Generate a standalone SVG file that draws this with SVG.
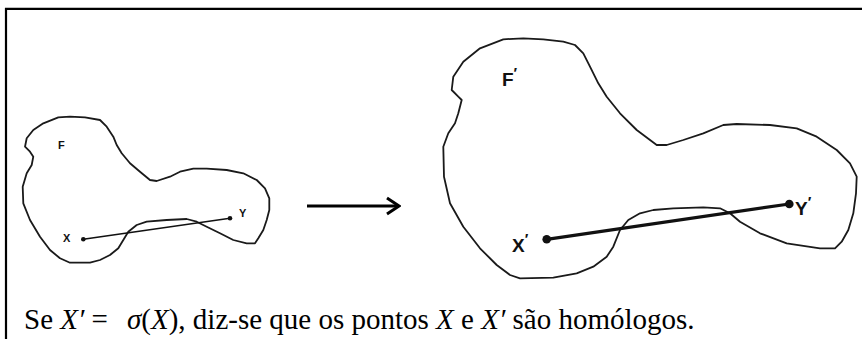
<svg xmlns="http://www.w3.org/2000/svg" width="862" height="339" viewBox="0 0 862 339">
<style>
.frame{stroke:#000;stroke-width:2.2;fill:none}
.blob{fill:none;stroke:#1a1a1a;stroke-width:1.8;stroke-linejoin:round;stroke-linecap:round}
.lbl{font-family:"Liberation Sans",Arial,sans-serif;font-weight:bold;fill:#111}
.cap{font-family:"Liberation Serif","Times New Roman",serif;font-size:29px;fill:#000}
.it{font-style:italic}
</style>
<defs>
<marker id="chev" viewBox="0 0 16 20" refX="14" refY="10" markerWidth="16" markerHeight="20" markerUnits="userSpaceOnUse" orient="auto">
<path d="M2,2 L14,10 L2,18" fill="none" stroke="#000" stroke-width="3"/>
</marker>
</defs>
<rect width="862" height="339" fill="#fff"/>
<path class="frame" d="M6,339 V8.8 H862"/>
<g id="figF">
<path class="blob" d="M25,146.7 L26.7,138.3 L33.3,130 L43.3,123.3 L58.3,117.3 L70,116.7 L85,117.3 L100,120 L106.7,126.7 L113.3,136.7 L116.7,145 L121.7,153.3 L130,163.3 L140,171.7 L150,180 L156.7,181 L170,176.7 L180,171.7 L193.3,168.7 L206.7,168.7 L226.7,170 L243.3,173.3 L256.7,180 L265,188.3 L269.3,198.3 L269.3,210 L266.7,220 L263.3,230 L258.3,238.3 L255,243.3 L246.7,243.3 L233.3,240 L220,233.3 L206.7,226.7 L196.7,221.7 L186.7,219 L166.7,220 L146.7,221.7 L136.7,225 L128.3,231.7 L123.3,240 L118.3,248.3 L110,255 L100,260 L90,262.7 L70,262.7 L60,258.3 L50,250 L40,236.7 L30,220 L23.3,203.3 L22.7,186.7 L26.7,173.3 L31.7,165 L33.3,156.7 L30,151.7 Z"/>
<line x1="83.3" y1="239.3" x2="230" y2="218.3" stroke="#111" stroke-width="1.5"/>
<circle cx="83.3" cy="239.3" r="2.3" fill="#111"/>
<circle cx="230" cy="218.3" r="2.3" fill="#111"/>
<text class="lbl" x="58" y="148.5" font-size="11">F</text>
<text class="lbl" x="63" y="241.5" font-size="11">X</text>
<text class="lbl" x="239" y="216.5" font-size="11">Y</text>
</g>
<g id="figF2">
<path class="blob" d="M451.7,90 L453.3,76.7 L463.3,61.7 L480,48.3 L503.3,39.3 L523.3,38.3 L543.3,39.3 L563.3,41.7 L575,45 L583.3,53.3 L590,66.7 L598.3,83.3 L606.7,96.7 L620,113.3 L636.7,130 L656.7,145 L666.7,145 L683.3,140 L703.3,133.3 L723.3,125 L736.7,124 L770,125 L796.7,128.3 L816.7,136.7 L836.7,150 L850,163.3 L856.7,176.7 L856,193.3 L853.3,213.3 L848.3,230 L841.7,241.7 L835,248.3 L820,248.3 L786.7,243.3 L760,233.3 L740,221.7 L730,213.3 L720,208.3 L703.3,207.3 L673.3,208.3 L653.3,210 L640,213.3 L628.3,220 L620,230 L613.3,246.7 L606.7,256.7 L593.3,266.7 L576.7,273.3 L553.3,277.7 L520,278.3 L510,275 L496.7,265 L480,248.3 L463.3,226.7 L450,203.3 L444,176.7 L443.3,146.7 L448.3,133.3 L455,123.3 L458.3,113.3 L461.7,100 L458.3,96.7 Z"/>
<line x1="546.7" y1="239.3" x2="789.3" y2="204" stroke="#111" stroke-width="3.2"/>
<circle cx="546.7" cy="239.3" r="4.3" fill="#111"/>
<circle cx="789.3" cy="204" r="4.3" fill="#111"/>
<text class="lbl" x="502" y="86" font-size="19">F<tspan font-size="15" dy="-8">′</tspan></text>
<text class="lbl" x="512" y="251.5" font-size="19">X<tspan font-size="15" dy="-8">′</tspan></text>
<text class="lbl" x="795" y="215" font-size="19">Y<tspan font-size="15" dy="-8">′</tspan></text>
</g>
<g id="connectors">
<line x1="307" y1="206" x2="399" y2="206" stroke="#000" stroke-width="3" marker-end="url(#chev)"/>
</g>
<text class="cap" x="24" y="329">Se <tspan class="it">X′</tspan> =<tspan class="it" x="127">σ</tspan>(<tspan class="it">X</tspan>), diz-se que os pontos <tspan class="it">X</tspan> e <tspan class="it">X′</tspan> são homólogos.</text>
</svg>
